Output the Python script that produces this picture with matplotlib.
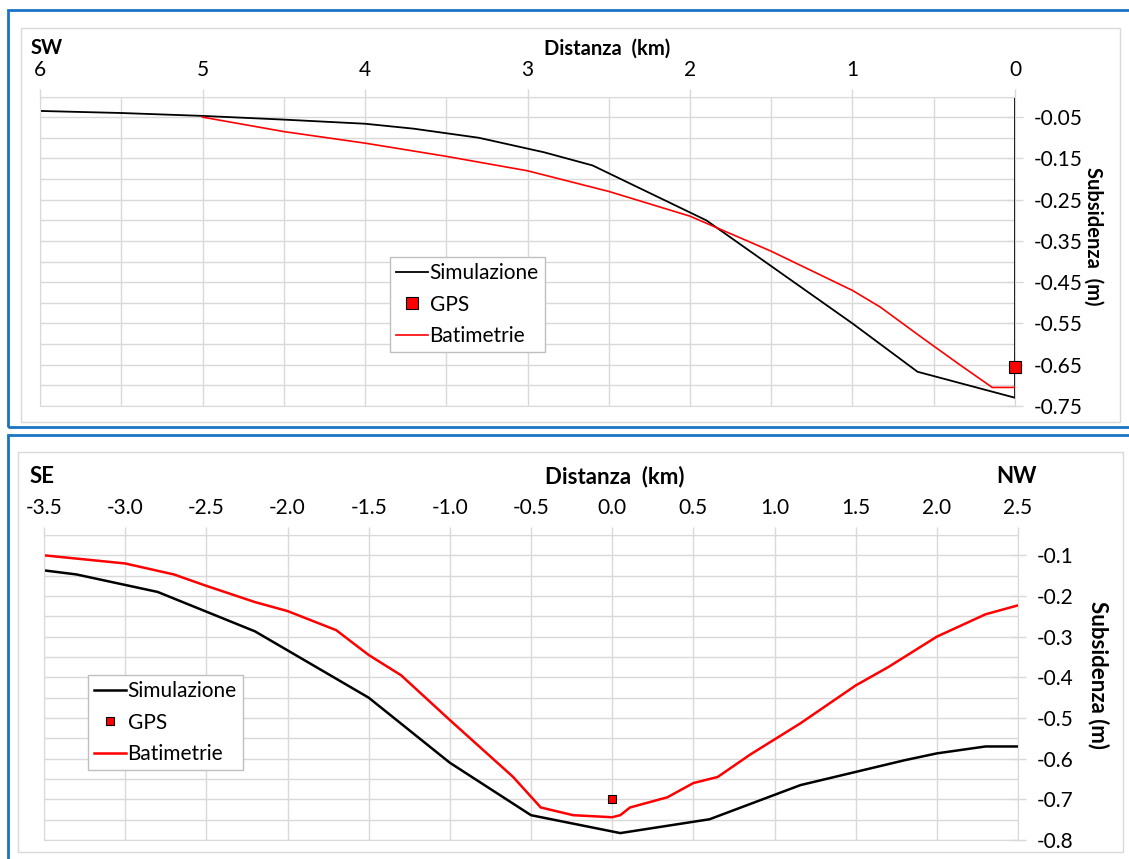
import matplotlib
matplotlib.use("Agg")
import matplotlib.pyplot as plt
from matplotlib.patches import Rectangle
from matplotlib.ticker import MultipleLocator, FormatStrFormatter

plt.rcParams['font.family'] = ['Lato', 'DejaVu Sans']

# top section (SW), distance axis reversed
top_sim_x = [6.0, 5.5, 5.0, 4.5, 4.0, 3.7, 3.3, 2.9, 2.6, 1.9, 1.0, 0.6, 0.0, 0.0]
top_sim_y = [-0.035, -0.04, -0.047, -0.056, -0.066, -0.078, -0.10, -0.135, -0.167,
             -0.30, -0.55, -0.667, -0.73, 0.0]
top_bat_x = [5.0, 4.5, 4.0, 3.5, 3.0, 2.5, 2.0, 1.5, 1.0, 0.83, 0.57, 0.34, 0.14, 0.0]
top_bat_y = [-0.05, -0.085, -0.113, -0.145, -0.18, -0.23, -0.29, -0.375, -0.47,
             -0.51, -0.585, -0.65, -0.705, -0.705]
top_gps_x = [0.0]
top_gps_y = [-0.655]

# bottom section (SE-NW)
bot_sim_x = [-3.5, -3.3, -2.8, -2.2, -1.5, -1.0, -0.5, 0.05, 0.6, 1.16, 1.8, 2.0, 2.3, 2.5]
bot_sim_y = [-0.137, -0.147, -0.19, -0.287, -0.45, -0.61, -0.739, -0.783, -0.749,
             -0.665, -0.604, -0.587, -0.57, -0.57]
bot_bat_x = [-3.5, -3.0, -2.7, -2.5, -2.2, -2.0, -1.7, -1.5, -1.3, -1.0, -0.61, -0.44,
             -0.24, 0.0, 0.05, 0.11, 0.34, 0.5, 0.65, 0.85, 1.16, 1.5, 1.7, 2.0, 2.3, 2.5]
bot_bat_y = [-0.10, -0.12, -0.147, -0.175, -0.215, -0.237, -0.284, -0.345, -0.395,
             -0.505, -0.645, -0.72, -0.739, -0.744, -0.739, -0.72, -0.695, -0.66,
             -0.645, -0.59, -0.513, -0.42, -0.375, -0.30, -0.245, -0.223]
bot_gps_x = [0.0]
bot_gps_y = [-0.70]

W, H = 1129, 859
fig = plt.figure(figsize=(W / 100, H / 100), dpi=100)

def fx(px):
    return px / W

def fy(py):
    return 1 - py / H

grid_c = "#d9d9d9"
blue = "#1a73c4"

# panel frames
fig.patches.append(Rectangle((fx(8), fy(427)), fx(1140 - 8), fy(10) - fy(427),
                             transform=fig.transFigure, fill=False, ec=blue, lw=2))
fig.patches.append(Rectangle((fx(8), fy(870)), fx(1140 - 8), fy(435) - fy(870),
                             transform=fig.transFigure, fill=False, ec=blue, lw=2))
fig.patches.append(Rectangle((fx(21), fy(422)), fx(1120 - 21), fy(28) - fy(422),
                             transform=fig.transFigure, fill=False, ec=grid_c, lw=1))
fig.patches.append(Rectangle((fx(18), fy(852)), fx(1123 - 18), fy(452) - fy(852),
                             transform=fig.transFigure, fill=False, ec=grid_c, lw=1))


def style_axes(ax):
    for s in ax.spines.values():
        s.set_color(grid_c)
    ax.xaxis.tick_top()
    ax.yaxis.tick_right()
    ax.grid(True, which="both", color=grid_c, lw=1)
    ax.set_axisbelow(True)
    ax.tick_params(axis="x", which="major", direction="out", length=6, width=1,
                   color=grid_c, labelsize=15, pad=6)
    ax.tick_params(axis="y", which="major", direction="inout", length=11, width=1,
                   color=grid_c, labelsize=15, pad=8)
    ax.tick_params(which="minor", length=0)


leg_kw = dict(loc="upper left", bbox_transform=fig.transFigure, borderaxespad=0,
              fancybox=False, edgecolor="#bfbfbf", framealpha=1, fontsize=15,
              handlelength=1.5, handletextpad=0.1, labelspacing=0.55, borderpad=0.3)

# ---- top panel ----
ax1 = fig.add_axes([fx(40), fy(406), fx(1015 - 40), fy(96.5) - fy(406)])
ax1.plot(top_sim_x, top_sim_y, color="black", lw=1.3, label="Simulazione")
ax1.plot(top_gps_x, top_gps_y, ls="none", marker="s", ms=8, mfc="red", mec="black",
         mew=0.8, label="GPS", clip_on=False, zorder=5)
ax1.plot(top_bat_x, top_bat_y, color="red", lw=1.2, label="Batimetrie")
ax1.set_xlim(6, 0)
ax1.set_ylim(-0.75, 0)
ax1.xaxis.set_major_locator(MultipleLocator(1))
ax1.xaxis.set_minor_locator(MultipleLocator(0.5))
ax1.set_yticks([-0.05, -0.15, -0.25, -0.35, -0.45, -0.55, -0.65, -0.75])
ax1.yaxis.set_minor_locator(MultipleLocator(0.05))
ax1.yaxis.set_major_formatter(FormatStrFormatter("%.2f"))
style_axes(ax1)
ax1.legend(bbox_to_anchor=(fx(390), fy(257)), **leg_kw)

fig.text(fx(31), fy(48), "SW", fontsize=14.5, fontweight="bold", ha="left", va="center")
fig.text(fx(607), fy(49), "Distanza  (km)", fontsize=14.5, fontweight="bold",
         ha="center", va="center")
fig.text(fx(1093), fy(236), "Subsidenza  (m)", fontsize=14.5, fontweight="bold",
         rotation=270, ha="center", va="center")

# ---- bottom panel ----
ax2 = fig.add_axes([fx(44), fy(840), fx(1018 - 44), fy(535) - fy(840)])
ax2.plot(bot_sim_x, bot_sim_y, color="black", lw=1.8, label="Simulazione")
ax2.plot(bot_gps_x, bot_gps_y, ls="none", marker="s", ms=6, mfc="red", mec="black",
         mew=0.8, label="GPS", zorder=5)
ax2.plot(bot_bat_x, bot_bat_y, color="red", lw=1.8, label="Batimetrie")
ax2.set_xlim(-3.5, 2.5)
ax2.set_ylim(-0.8, -0.05)
ax2.xaxis.set_major_locator(MultipleLocator(0.5))
ax2.xaxis.set_major_formatter(FormatStrFormatter("%.1f"))
ax2.set_yticks([-0.1, -0.2, -0.3, -0.4, -0.5, -0.6, -0.7, -0.8])
ax2.yaxis.set_minor_locator(MultipleLocator(0.05))
ax2.yaxis.set_major_formatter(FormatStrFormatter("%.1f"))
style_axes(ax2)
ax2.legend(bbox_to_anchor=(fx(88), fy(675)), **leg_kw)

fig.text(fx(30), fy(477), "SE", fontsize=16, fontweight="bold", ha="left", va="center")
fig.text(fx(1016), fy(477), "NW", fontsize=16, fontweight="bold", ha="center", va="center")
fig.text(fx(615), fy(477), "Distanza  (km)", fontsize=16, fontweight="bold",
         ha="center", va="center")
fig.text(fx(1098), fy(675), "Subsidenza (m)", fontsize=16, fontweight="bold",
         rotation=270, ha="center", va="center")

fig.savefig("out.png", dpi=100)
